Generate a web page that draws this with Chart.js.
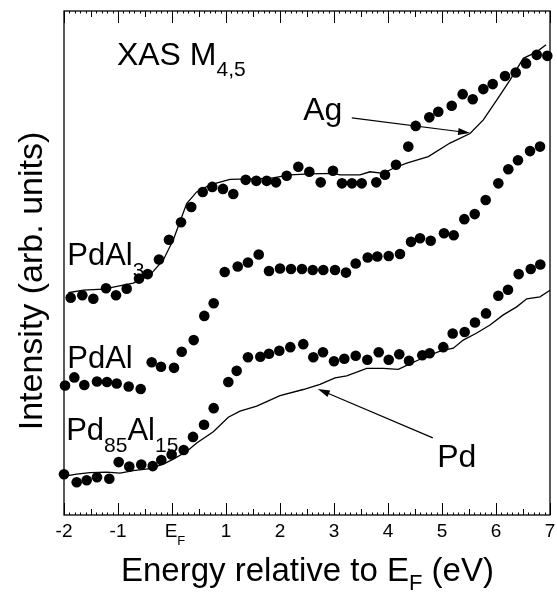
<!DOCTYPE html>
<html><head><meta charset="utf-8">
<script src="https://cdn.jsdelivr.net/npm/chart.js@4.4.1/dist/chart.umd.min.js"></script>
<style>html,body{margin:0;padding:0;background:#fff}canvas{display:block}</style>
</head><body>
<canvas id="c" width="557" height="592"></canvas>
<script>
const FONT = '"Liberation Sans", Arial, Helvetica, sans-serif';

// Axis
const xTickValues = [-2,-1,0,1,2,3,4,5,6,7];
const xTickLabels = ['-2','-1','E|F','1','2','3','4','5','6','7'];

// PdAl3 (dots, top series)
const pdAl3X = [-1.876,-1.661,-1.457,-1.222,-1.037,-0.839,-0.611,-0.450,-0.241,-0.056,0.167,0.357,0.569,0.746,0.944,1.135,1.365,1.561,1.754,1.926,2.124,2.339,2.543,2.754,2.981,3.148,3.333,3.513,3.783,3.944,4.148,4.376,4.513,4.765,4.931,5.180,5.383,5.569,5.765,5.939,6.167,6.365,6.556,6.754,6.950];
const pdAl3Y = [4.31,4.36,4.29,4.50,4.36,4.49,4.69,4.78,5.07,5.46,5.81,6.11,6.41,6.51,6.47,6.37,6.65,6.63,6.63,6.60,6.73,6.91,6.81,6.60,6.83,6.58,6.58,6.58,6.60,6.75,6.95,7.31,7.72,7.89,8.00,8.12,8.35,8.25,8.45,8.55,8.71,8.78,8.96,9.13,9.11];

// Ag (solid line)
const agX = [-1.920,-1.643,-1.272,-0.902,-0.717,-0.407,-0.161,0.024,0.272,0.457,0.704,1.074,1.444,1.815,2.185,2.556,2.987,3.111,3.481,3.667,3.913,4.098,4.346,4.746,5.148,5.519,5.765,6.013,6.259,6.506,6.754,6.926];
const agY = [4.41,4.46,4.48,4.56,4.60,4.76,5.06,5.46,6.18,6.41,6.55,6.66,6.67,6.68,6.75,6.77,6.78,6.75,6.75,6.81,6.78,6.88,6.98,7.11,7.38,7.57,7.84,8.23,8.63,9.06,9.19,9.33];

// PdAl (dots, middle series)
const pdAlX = [-1.981,-1.809,-1.624,-1.389,-1.204,-1.024,-0.802,-0.580,-0.376,-0.204,0.037,0.180,0.402,0.598,0.772,0.976,1.217,1.407,1.606,1.796,2.000,2.204,2.407,2.606,2.802,3.019,3.222,3.402,3.624,3.802,4.013,4.222,4.426,4.593,4.791,5.037,5.217,5.413,5.606,5.809,6.043,6.228,6.407,6.630,6.815];
const pdAlY = [2.57,2.73,2.58,2.65,2.64,2.61,2.55,2.50,3.03,2.94,2.92,3.24,3.47,3.95,4.20,4.82,4.93,5.01,5.17,4.84,4.89,4.88,4.88,4.86,4.86,4.86,4.81,4.99,5.11,5.13,5.14,5.18,5.42,5.49,5.44,5.59,5.55,5.87,5.97,6.25,6.58,6.86,7.04,7.22,7.31];

// Pd85Al15 (dots, bottom series)
const pd85X = [-2.000,-1.765,-1.580,-1.389,-1.161,-0.987,-0.791,-0.569,-0.357,-0.198,-0.006,0.217,0.389,0.593,0.772,1.043,1.198,1.407,1.635,1.796,1.987,2.191,2.431,2.617,2.796,3.000,3.191,3.402,3.617,3.828,4.013,4.209,4.389,4.635,4.772,5.024,5.198,5.420,5.611,5.815,6.043,6.222,6.420,6.643,6.820];
const pd85Y = [0.81,0.65,0.69,0.75,0.72,1.05,0.96,1.00,0.97,1.09,1.20,1.29,1.55,1.79,2.12,2.64,2.86,3.13,3.14,3.20,3.26,3.33,3.39,3.13,3.23,3.05,3.10,3.16,3.08,3.23,3.08,3.19,3.06,3.17,3.21,3.33,3.60,3.63,3.82,4.00,4.35,4.47,4.78,4.88,4.97];

// Pd (solid line)
const pdX = [-1.981,-1.765,-1.519,-1.209,-0.963,-0.717,-0.407,-0.161,0.024,0.272,0.457,0.765,1.043,1.259,1.569,1.754,2.000,2.431,2.741,3.019,3.235,3.606,3.913,4.191,4.346,4.593,4.963,5.209,5.394,5.643,5.889,6.135,6.383,6.569,6.815,7.000];
const pdY = [0.77,0.81,0.84,0.85,0.83,0.88,0.92,1.01,1.11,1.26,1.43,1.65,1.94,2.06,2.16,2.25,2.37,2.49,2.59,2.72,2.76,2.91,2.91,2.89,2.97,3.09,3.25,3.31,3.47,3.61,3.77,3.97,4.13,4.29,4.33,4.46];

const zip = (xs, ys) => xs.map((x, i) => ({x, y: ys[i]}));

function dotSet(label, xs, ys) {
  return {label, data: zip(xs, ys), showLine: false, pointRadius: 5.3, pointHoverRadius: 5.3,
    pointBackgroundColor: '#000', pointBorderColor: '#000', pointBorderWidth: 0, clip: false};
}
function lineSet(label, xs, ys) {
  return {label, data: zip(xs, ys), showLine: true, borderColor: '#000', borderWidth: 1.3,
    pointRadius: 0, tension: 0, fill: false, clip: false};
}

// Text annotations (data coordinates of left/baseline) and arrows
const annotations = [
  {parts: [['XAS M',0],['4,5',1]], x: -1.02, y: 8.93, size: 32, sub: 21, dy: 11},
  {parts: [['Ag',0]], x: 2.43, y: 7.84, size: 32, sub: 21, dy: 11},
  {parts: [['PdAl',0],['3',1]], x: -1.94, y: 4.96, size: 31, sub: 21, dy: 12},
  {parts: [['PdAl',0]], x: -1.94, y: 2.92, size: 31, sub: 21, dy: 12},
  {parts: [['Pd',0],['85',1],['Al',0],['15',1]], x: -1.96, y: 1.49, size: 31, sub: 21, dy: 12},
  {parts: [['Pd',0]], x: 4.91, y: 0.95, size: 32, sub: 21, dy: 11}
];
const arrows = [
  {from: [3.33, 7.88], to: [5.52, 7.58]},
  {from: [4.83, 1.53], to: [2.70, 2.50]}
];

function drawRich(ctx, parts, x, y, size, sub, dy) {
  let cx = x;
  ctx.textBaseline = 'alphabetic';
  ctx.textAlign = 'left';
  for (const [t, s] of parts) {
    ctx.font = (s ? sub : size) + 'px ' + FONT;
    ctx.fillText(t, cx, s ? y + dy : y);
    cx += ctx.measureText(t).width;
  }
  return cx - x;
}
function richWidth(ctx, parts, size, sub) {
  let w = 0;
  for (const [t, s] of parts) { ctx.font = (s ? sub : size) + 'px ' + FONT; w += ctx.measureText(t).width; }
  return w;
}

const deco = {
  id: 'deco',
  afterDraw(chart) {
    const {ctx, chartArea: a, scales: {x, y}} = chart;
    ctx.save();
    ctx.strokeStyle = '#000';
    ctx.fillStyle = '#000';
    // frame
    ctx.lineWidth = 1.3;
    ctx.strokeRect(a.left, a.top, a.right - a.left, a.bottom - a.top);
    // inward ticks, bottom and top
    ctx.lineWidth = 1;
    for (let i = -20; i <= 70; i++) {
      const px = Math.round(x.getPixelForValue(i / 10)) + 0.5;
      const len = (i % 10 === 0) ? 12 : (i % 5 === 0 ? 6 : 2.5);
      ctx.beginPath();
      ctx.moveTo(px, a.bottom); ctx.lineTo(px, a.bottom - len);
      ctx.moveTo(px, a.top); ctx.lineTo(px, a.top + len);
      ctx.stroke();
    }
    // tick labels
    ctx.font = '19px ' + FONT;
    ctx.textBaseline = 'alphabetic';
    xTickValues.forEach((v, i) => {
      const px = x.getPixelForValue(v);
      const lab = xTickLabels[i];
      if (lab.includes('|')) {
        const [m, s] = lab.split('|');
        const parts = [[m,0],[s,1]];
        const w = richWidth(ctx, parts, 19, 13);
        drawRich(ctx, parts, px - w / 2 + 3, a.bottom + 22, 19, 13, 8);
      } else {
        ctx.font = '19px ' + FONT;
        ctx.textAlign = 'center';
        ctx.fillText(lab, px, a.bottom + 22);
      }
    });
    // x axis title
    {
      const parts = [['Energy relative to E',0],['F',1],[' (eV)',0]];
      drawRich(ctx, parts, a.left + 57, a.bottom + 66, 33, 22, 9);
    }
    // y axis title
    ctx.save();
    ctx.translate(a.left - 22, (a.top + a.bottom) / 2 + 18);
    ctx.rotate(-Math.PI / 2);
    ctx.font = '34px ' + FONT;
    ctx.textAlign = 'center';
    ctx.textBaseline = 'alphabetic';
    ctx.fillText('Intensity (arb. units)', 0, 0);
    ctx.restore();
    // annotations
    annotations.forEach(an => {
      drawRich(ctx, an.parts, x.getPixelForValue(an.x), y.getPixelForValue(an.y), an.size, an.sub, an.dy);
    });
    // arrows
    ctx.lineWidth = 1.2;
    arrows.forEach(ar => {
      const x0 = x.getPixelForValue(ar.from[0]), y0 = y.getPixelForValue(ar.from[1]);
      const x1 = x.getPixelForValue(ar.to[0]), y1 = y.getPixelForValue(ar.to[1]);
      const ang = Math.atan2(y1 - y0, x1 - x0);
      const hl = 12, hw = 3.5;
      ctx.beginPath(); ctx.moveTo(x0, y0);
      ctx.lineTo(x1 - Math.cos(ang) * hl * 0.8, y1 - Math.sin(ang) * hl * 0.8); ctx.stroke();
      ctx.beginPath();
      ctx.moveTo(x1, y1);
      ctx.lineTo(x1 - Math.cos(ang) * hl + Math.sin(ang) * hw, y1 - Math.sin(ang) * hl - Math.cos(ang) * hw);
      ctx.lineTo(x1 - Math.cos(ang) * hl - Math.sin(ang) * hw, y1 - Math.sin(ang) * hl + Math.cos(ang) * hw);
      ctx.closePath(); ctx.fill();
    });
    ctx.restore();
  }
};

new Chart(document.getElementById('c'), {
  type: 'scatter',
  data: {
    datasets: [
      lineSet('Ag', agX, agY),
      lineSet('Pd', pdX, pdY),
      dotSet('PdAl3', pdAl3X, pdAl3Y),
      dotSet('PdAl', pdAlX, pdAlY),
      dotSet('Pd85Al15', pd85X, pd85Y)
    ]
  },
  options: {
    responsive: false,
    animation: false,
    devicePixelRatio: 1,
    layout: {padding: {left: 64, right: 7, top: 11, bottom: 77}},
    plugins: {legend: {display: false}, tooltip: {enabled: false}},
    scales: {
      x: {type: 'linear', min: -2, max: 7, display: false},
      y: {type: 'linear', min: 0, max: 10, display: false}
    }
  },
  plugins: [deco]
});
</script>
</body></html>
